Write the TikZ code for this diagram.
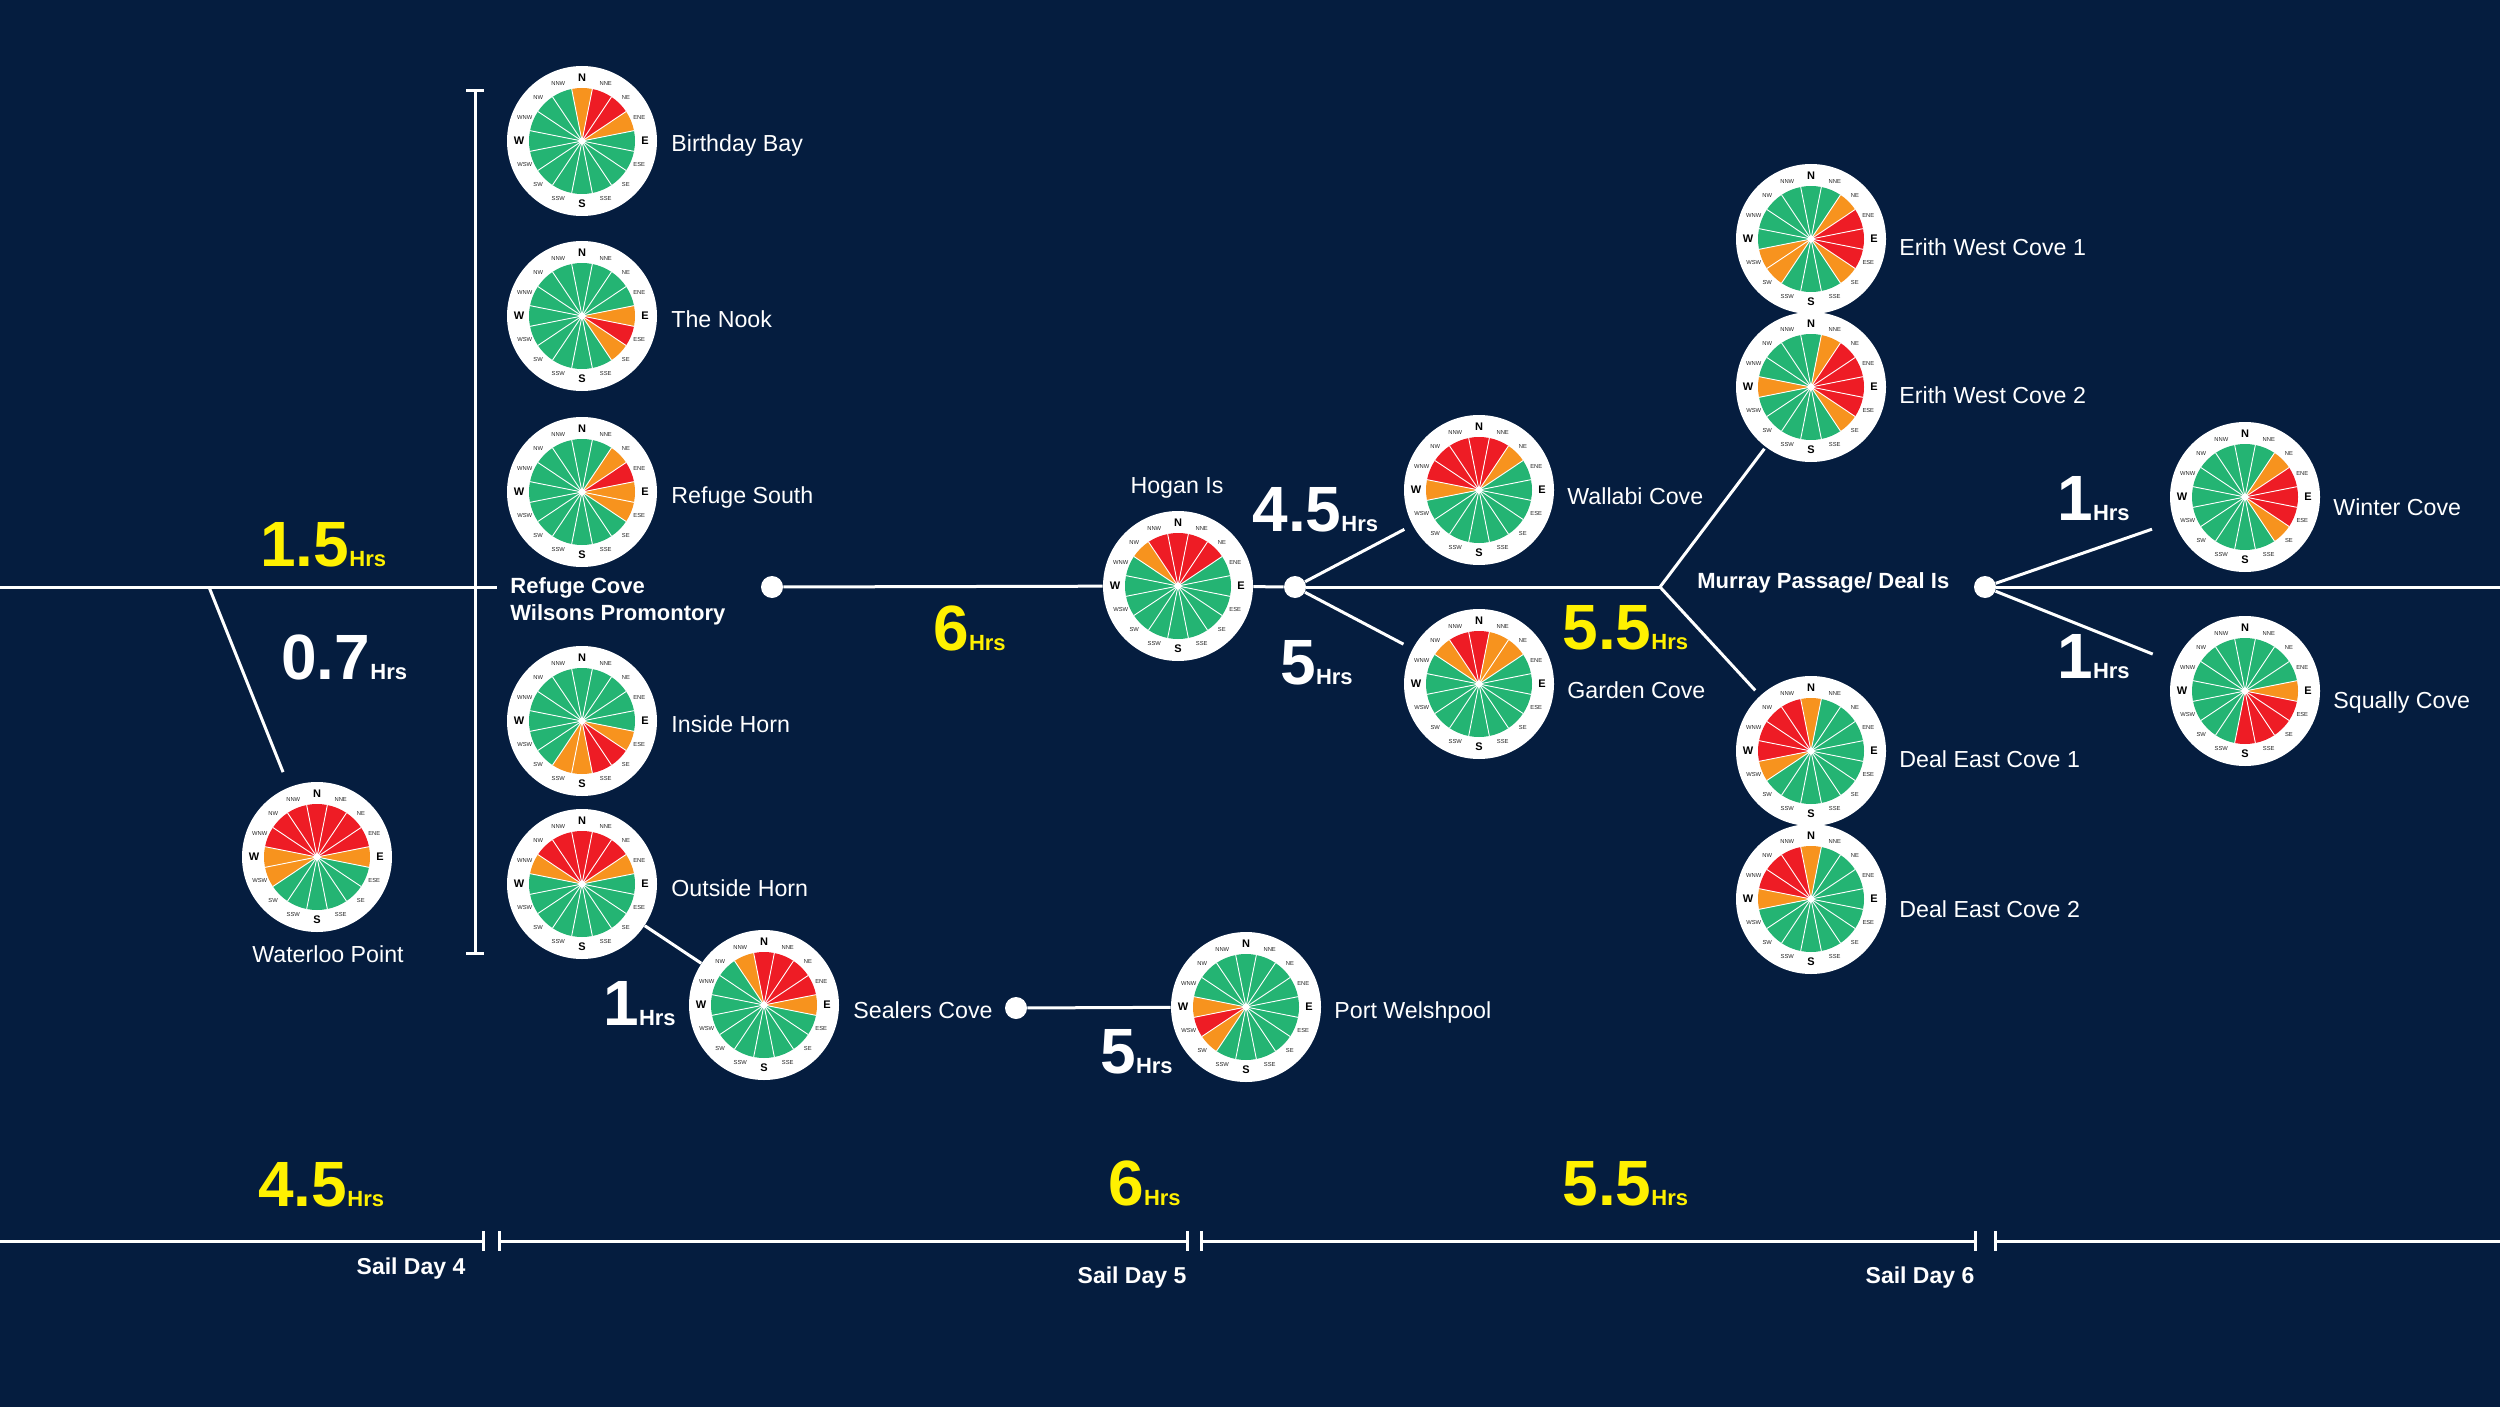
\documentclass[tikz,border=0pt]{standalone}
\usepackage{fontspec}
\setmainfont{Liberation Sans}
\definecolor{bg}{HTML}{051D3F}
\definecolor{cG}{HTML}{24B473}
\definecolor{cO}{HTML}{F7931E}
\definecolor{cR}{HTML}{EE1C25}
\definecolor{hy}{HTML}{FFF100}
\newcommand\hrslabel[1]{{\fontsize{32}{32}\selectfont\bfseries #1}{\fontsize{11}{11}\selectfont\bfseries Hrs}}
\newcommand\windrose[3]{%
  \node[rosedisc] (#1) at (#2) {};
  \begin{scope}[shift={(#2)}, yscale=-1]
    \foreach \c [count=\i from 0] in {#3} {
      \pgfmathsetmacro\a{90-\i*22.5}
      \fill[c\c] (0,0) -- (\a+11.25:53) arc[start angle=\a+11.25, end angle=\a-11.25, radius=53] -- cycle;
    }
    \foreach \i in {0,...,15} \draw[white, line width=0.45pt] (0,0) -- ({90-\i*22.5+11.25}:53);
    \fill[white] (0,0) circle[radius=3.5];
    \foreach \t [count=\i from 0] in {N,NNE,NE,ENE,E,ESE,SE,SSE,S,SSW,SW,WSW,W,WNW,NW,NNW} {
      \pgfmathtruncatemacro\m{mod(\i,4)}
      \ifnum\m=0
        \node[cardlbl] at ({90-\i*22.5}:63) {\t};
      \else
        \node[minlbl] at ({90-\i*22.5}:62) {\t};
      \fi
    }
  \end{scope}}
\begin{document}
\begin{tikzpicture}[x=0.5pt,y=-0.5pt,
  rosedisc/.style={circle, fill=white, minimum size=75pt, inner sep=0pt},
  cardlbl/.style={font=\fontsize{5.5}{6}\selectfont\bfseries, text=black, inner sep=0pt},
  minlbl/.style={font=\fontsize{2.9}{3}\selectfont, text=black!85, inner sep=0pt},
  wline/.style={white, line width=1.5pt},
  dotn/.style={circle, fill=white, minimum size=11pt, inner sep=0pt},
  place/.style={text=white, font=\fontsize{11.6}{14}\selectfont, inner sep=0pt},
  bplace/.style={text=white, font=\fontsize{11}{13.5}\selectfont\bfseries, inner sep=0pt},
  hrsY/.style={text=hy, anchor=base west, inner sep=0pt},
  hrsW/.style={text=white, anchor=base west, inner sep=0pt},
  dayl/.style={text=white, font=\fontsize{11.5}{14}\selectfont\bfseries, inner sep=0pt}]
\fill[bg] (0,0) rectangle (2500,1407);
\useasboundingbox (0,0) rectangle (2500,1407);

% roses
\windrose{bb}{582,141}{O,R,R,O,G,G,G,G,G,G,G,G,G,G,G,G}
\windrose{nook}{582,316}{G,G,G,G,O,R,O,G,G,G,G,G,G,G,G,G}
\windrose{refs}{582,492}{G,G,O,R,O,O,G,G,G,G,G,G,G,G,G,G}
\windrose{insh}{582,721}{G,G,G,G,G,O,R,R,O,O,G,G,G,G,G,G}
\windrose{outh}{582,884}{R,R,R,O,G,G,G,G,G,G,G,G,G,O,R,R}
\windrose{water}{317,857}{R,R,R,R,O,G,G,G,G,G,G,O,O,R,R,R}
\windrose{seal}{764,1005}{R,R,R,R,O,G,G,G,G,G,G,G,G,G,G,O}
\windrose{port}{1246,1007}{G,G,G,G,G,G,G,G,G,G,O,R,O,G,G,G}
\windrose{hogan}{1178,586}{R,R,R,G,G,G,G,G,G,G,G,G,G,G,O,R}
\windrose{wall}{1479,490}{R,R,O,G,G,G,G,G,G,G,G,G,O,R,R,R}
\windrose{gard}{1479,684}{R,O,O,G,G,G,G,G,G,G,G,G,G,G,O,R}
\windrose{erith1}{1811,239}{G,G,O,R,R,R,O,G,G,G,O,O,G,G,G,G}
\windrose{erith2}{1811,387}{G,O,R,R,R,R,O,G,G,G,G,G,O,G,G,G}
\windrose{deal1}{1811,751}{O,G,G,G,G,G,G,G,G,G,G,O,R,R,R,R}
\windrose{deal2}{1811,899}{O,G,G,G,G,G,G,G,G,G,G,G,O,R,R,R}
\windrose{wint}{2245,497}{G,G,O,R,R,R,O,G,G,G,G,G,G,G,G,G}
\windrose{squal}{2245,691}{G,G,G,G,O,R,R,R,R,G,G,G,G,G,G,G}

% dots and coordinates
\node[dotn] (d1) at (772,587) {};
\node[dotn] (d2) at (1295,587) {};
\node[dotn] (d3) at (1985,587) {};
\node[dotn] (d4) at (1016,1008) {};
\coordinate (L0) at (0,587);
\coordinate (L1) at (497,587);
\coordinate (J0) at (209,587);
\coordinate (J1) at (1660,587);
\coordinate (R0) at (2500,587);
\coordinate (B0) at (475,91);
\coordinate (B1) at (475,953);

% connectors
\draw[wline] (L0) -- (L1);
\draw[wline, shorten >=8pt] (J0) -- (water);
\draw[wline] (B0) -- (B1);
\draw[wline] ([xshift=-4.5pt]B0) -- ([xshift=4.5pt]B0);
\draw[wline] ([xshift=-4.5pt]B1) -- ([xshift=4.5pt]B1);
\draw[wline] (d1) -- (hogan);
\draw[wline] (hogan) -- (d2);
\draw[wline] (d2) -- (J1);
\draw[wline, shorten >=4.5pt] (d2) -- (wall);
\draw[wline, shorten >=5pt] (d2) -- (gard);
\draw[wline, shorten >=1pt] (J1) -- (erith2);
\draw[wline, shorten >=3.5pt] (J1) -- (deal1);
\draw[wline] (d3) -- (R0);
\draw[wline, shorten >=11.5pt] (d3) -- (wint);
\draw[wline, shorten >=12pt] (d3) -- (squal);
\draw[wline] (outh) -- (seal);
\draw[wline] (d4) -- (port);

% timeline
\coordinate (T0) at (0,1241);
\coordinate (T1) at (483,1241);
\coordinate (T2) at (499,1241);
\coordinate (T3) at (1187,1241);
\coordinate (T4) at (1201,1241);
\coordinate (T5) at (1975,1241);
\coordinate (T6) at (1995,1241);
\coordinate (T7) at (2500,1241);
\draw[wline] (T0) -- (T1);
\draw[wline] (T2) -- (T3);
\draw[wline] (T4) -- (T5);
\draw[wline] (T6) -- (T7);
\foreach \t in {T1,T2,T3,T4,T5,T6} \draw[wline] ([yshift=5pt]\t) -- ([yshift=-5pt]\t);

% place labels
\node[place, anchor=west] (tbb) at (671,146) {Birthday Bay};
\node[place, anchor=west] (tnook) at (671,319) {The Nook};
\node[place, anchor=west] (trefs) at (671,497) {Refuge South};
\node[place, anchor=west] (tinsh) at (671,724) {Inside Horn};
\node[place, anchor=west] (touth) at (671,888) {Outside Horn};
\node[place] (twater) at (328,954) {Waterloo Point};
\node[place, anchor=west] (tseal) at (853,1010) {Sealers Cove};
\node[place, anchor=west] (tport) at (1334,1012) {Port Welshpool};
\node[place] (thogan) at (1177,488) {Hogan Is};
\node[place, anchor=west] (twall) at (1567,496) {Wallabi Cove};
\node[place, anchor=west] (tgard) at (1567,690) {Garden Cove};
\node[place, anchor=west] (terith1) at (1899,247) {Erith West Cove 1};
\node[place, anchor=west] (terith2) at (1899,395) {Erith West Cove 2};
\node[place, anchor=west] (tdeal1) at (1899,759) {Deal East Cove 1};
\node[place, anchor=west] (tdeal2) at (1899,909) {Deal East Cove 2};
\node[place, anchor=west] (twint) at (2333,507) {Winter Cove};
\node[place, anchor=west] (tsqual) at (2333,702) {Squally Cove};
\node[bplace, anchor=west] (tmurray) at (1697,583) {Murray Passage/ Deal Is};
\node[bplace, anchor=west, align=left] (tref) at (510,601) {Refuge Cove\\Wilsons Promontory};

% hours
\node[hrsY] (h1) at (260,566) {\hrslabel{1.5}};
\node[hrsW] (h2) at (281,679) {\hrslabel{0.7}};
\node[hrsY] (h3) at (933,650) {\hrslabel{6}};
\node[hrsW] (h4) at (1252,531) {\hrslabel{4.5}};
\node[hrsW] (h5) at (1280,684) {\hrslabel{5}};
\node[hrsY] (h6) at (1562,649) {\hrslabel{5.5}};
\node[hrsW] (h7) at (2057,520) {\hrslabel{1}};
\node[hrsW] (h8) at (2057,678) {\hrslabel{1}};
\node[hrsW] (h9) at (603,1025) {\hrslabel{1}};
\node[hrsW] (h10) at (1100,1073) {\hrslabel{5}};
\node[hrsY] (h11) at (258,1206) {\hrslabel{4.5}};
\node[hrsY] (h12) at (1108,1205) {\hrslabel{6}};
\node[hrsY] (h13) at (1562,1205) {\hrslabel{5.5}};

% days
\node[dayl] (day4) at (411,1269) {Sail Day 4};
\node[dayl] (day5) at (1132,1278) {Sail Day 5};
\node[dayl] (day6) at (1920,1278) {Sail Day 6};
\end{tikzpicture}
\end{document}
